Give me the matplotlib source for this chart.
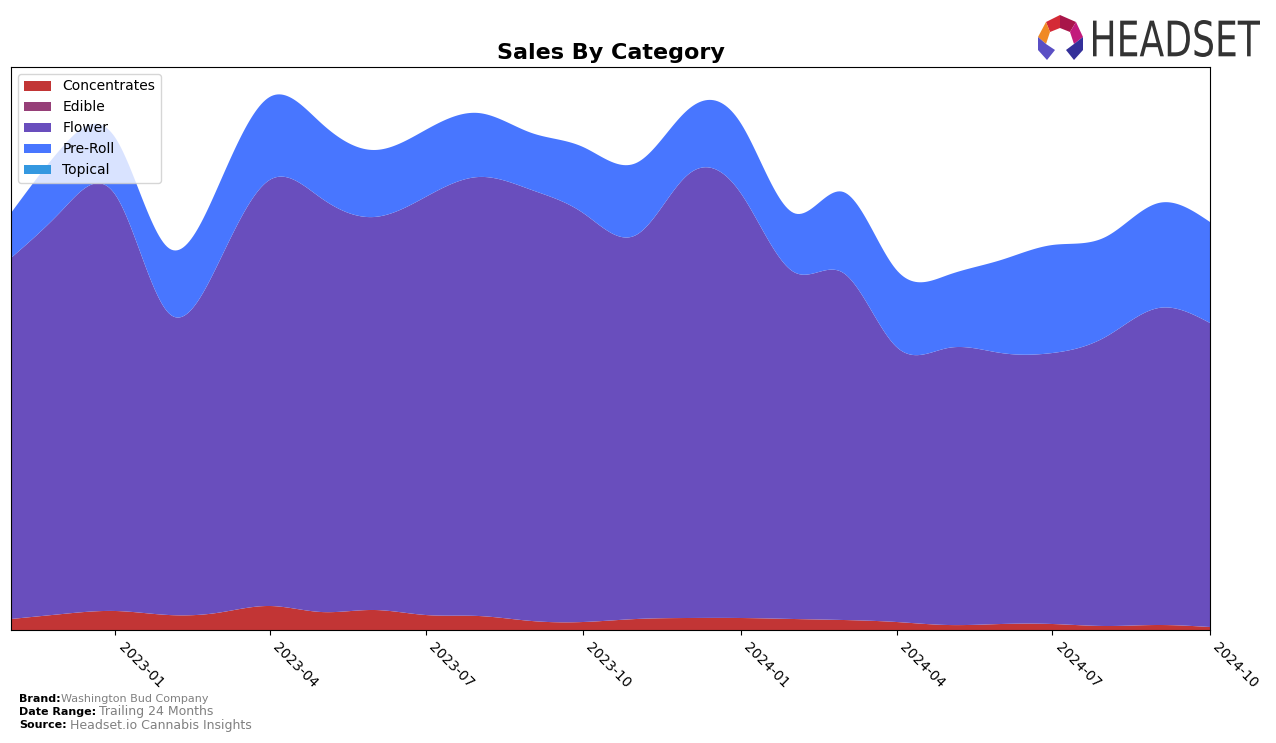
import numpy as np
import pandas as pd
import matplotlib
matplotlib.use('Agg')
import matplotlib.pyplot as plt
import matplotlib.dates as mdates
from matplotlib.patches import Polygon, PathPatch
from matplotlib.textpath import TextPath
from matplotlib.font_manager import FontProperties
from matplotlib.transforms import Affine2D, IdentityTransform

# monthly sales by category (thousand $)
months = pd.date_range('2022-11-01', '2024-10-01', freq='MS')
categories = ['Concentrates', 'Edible', 'Flower', 'Pre-Roll', 'Topical']
concentrates = [11, 16, 19, 15, 17, 24, 18, 20, 15, 14, 9, 8,
                11, 12, 12, 11, 10, 8, 5, 6, 6, 4, 5, 3]
edible = [0] * 24
flower = [361, 404, 416, 302, 346, 426, 414, 393, 418, 439, 431, 409,
          384, 443, 425, 347, 347, 275, 277, 271, 271, 289, 317, 304]
preroll = [45, 63, 57, 65, 77, 83, 75, 67, 67, 64, 57, 66,
           72, 65, 70, 59, 81, 77, 73, 93, 108, 100, 105, 101]
topical = [0] * 24
colors = ['#c23535', '#963f78', '#694ebd', '#4876ff', '#3498e0']


def smooth(x, y, n=600):
    # natural cubic spline, drawn on a dense grid only for display
    x = np.asarray(x, float)
    y = np.asarray(y, float)
    k = len(x)
    h = np.diff(x)
    A = np.zeros((k, k))
    b = np.zeros(k)
    A[0, 0] = A[-1, -1] = 1
    for i in range(1, k - 1):
        A[i, i - 1] = h[i - 1]
        A[i, i] = 2 * (h[i - 1] + h[i])
        A[i, i + 1] = h[i]
        b[i] = 3 * ((y[i + 1] - y[i]) / h[i] - (y[i] - y[i - 1]) / h[i - 1])
    c = np.linalg.solve(A, b)
    xs = np.linspace(x[0], x[-1], n)
    idx = np.clip(np.searchsorted(x, xs) - 1, 0, k - 2)
    dx = xs - x[idx]
    bb = (y[idx + 1] - y[idx]) / h[idx] - h[idx] * (2 * c[idx] + c[idx + 1]) / 3
    dd = (c[idx + 1] - c[idx]) / (3 * h[idx])
    ys = y[idx] + bb * dx + c[idx] * dx ** 2 + dd * dx ** 3
    return xs, np.clip(ys, 0, None)


W, H = 1276, 743
fig = plt.figure(figsize=(W / 100, H / 100), dpi=100)
ax = fig.add_axes([11 / W, 1 - 630 / H, 1199 / W, 563 / H])

xnum = mdates.date2num(months)
series = [concentrates, edible, flower, preroll, topical]
stack = []
for s in series:
    xs, ys = smooth(xnum, s)
    stack.append(ys)
ax.stackplot(xs, stack, labels=categories, colors=colors)

ax.set_xlim(xnum[0], xnum[-1])
ax.set_ylim(0, 563)
ax.set_yticks([])
ax.xaxis.set_major_locator(mdates.MonthLocator(bymonth=[1, 4, 7, 10]))
ax.xaxis.set_major_formatter(mdates.DateFormatter('%Y-%m'))
plt.setp(ax.get_xticklabels(), rotation=-45, ha='left', fontsize=10)
ax.set_title('Sales By Category', fontsize=16, fontweight='bold', pad=6)
ax.legend(loc='upper left', fontsize=10, framealpha=0.8)

# footer
fig.text(19 / W, 1 - 699 / H, 'Brand:', fontsize=8, fontweight='bold', va='center')
fig.text(61 / W, 1 - 699 / H, 'Washington Bud Company', fontsize=8, color='gray', va='center')
fig.text(19 / W, 1 - 712 / H, 'Date Range:', fontsize=8, fontweight='bold', va='center')
fig.text(99 / W, 1 - 712 / H, 'Trailing 24 Months', fontsize=9, color='gray', va='center')
fig.text(19 / W, 1 - 725 / H, 'Source:', fontsize=8, fontweight='bold', va='center')
fig.text(70 / W, 1 - 725 / H, 'Headset.io Cannabis Insights', fontsize=9, color='gray', va='center')

# logo word, squeezed into the box it takes in the reference
tp = TextPath((0, 0), 'HEADSET', size=1, prop=FontProperties(family='DejaVu Sans'))
ext = tp.get_extents()
box_w, box_h = 167, 37
tr = (Affine2D().translate(-ext.x0, -ext.y0)
      .scale(box_w / ext.width, box_h / ext.height)
      .translate(1093, H - 57))
fig.patches.append(PathPatch(tr.transform_path(tp), facecolor='#333333',
                             edgecolor='none', transform=IdentityTransform()))


def px(pts):
    return [(x / W, 1 - y / H) for x, y in pts]


logo_parts = [
    ([(1046, 22), (1060, 15), (1060, 28), (1050, 32)], '#d42a36'),
    ([(1060, 15), (1076, 22), (1070, 32), (1060, 28)], '#a8154a'),
    ([(1076, 22), (1083, 37), (1074, 44), (1070, 32)], '#c21a7c'),
    ([(1046, 22), (1050, 32), (1046, 44), (1038, 37)], '#f08a24'),
    ([(1038, 37), (1046, 44), (1055, 50), (1047, 60), (1038, 50)], '#5a4fc4'),
    ([(1083, 37), (1083, 50), (1074, 60), (1066, 50), (1074, 44)], '#34309a'),
]
for pts, col in logo_parts:
    fig.patches.append(Polygon(px(pts), closed=True, facecolor=col,
                               edgecolor='none', transform=fig.transFigure))

fig.savefig('out.png', dpi=100)
